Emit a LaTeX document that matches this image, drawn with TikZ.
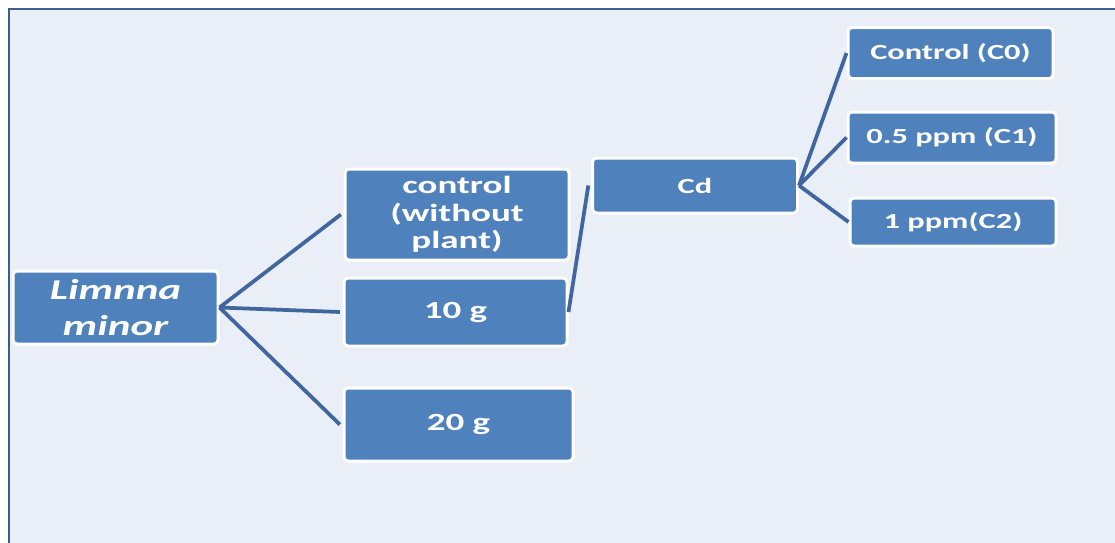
\documentclass[tikz,border=0pt]{standalone}
\usepackage{fontspec}
\setmainfont{Carlito}[FakeStretch=1.5]
\definecolor{bgc}{RGB}{233,238,247}
\definecolor{framec}{RGB}{61,93,143}
\definecolor{boxc}{RGB}{79,129,189}
\definecolor{linec}{RGB}{63,102,158}
\tikzset{
  box/.style={draw=white, line width=2.25pt, fill=boxc, rounded corners=3pt,
    inner sep=0pt, text=white, align=center, font=\bfseries},
  big/.style={font=\bfseries\fontsize{18.5}{20.5}\selectfont},
  small/.style={font=\bfseries\fontsize{16.2}{18}\selectfont},
  conn/.style={draw=linec, line width=2.8pt}
}
\begin{document}
\begin{tikzpicture}[x=0.75pt,y=-0.75pt]
\useasboundingbox (0,0) rectangle (1115,543);
\fill[white] (0,0) rectangle (1115,543);
\fill[bgc] (9,9) rectangle (1115,543);
\draw[framec, line width=1.9pt] (9,543) -- (9,9) -- (1115,9);
% connectors
\node[box, minimum width={205*0.75pt}, minimum height={73*0.75pt},
  font=\bfseries\itshape\fontsize{21.5}{27}\selectfont] (lm) at (115.5,307.5) {Limnna\\minor};
\node[box, big, minimum width={224*0.75pt}, minimum height={91*0.75pt}] (ctl) at (457,214.5) {control\\(without\\plant)};
\node[box, big, minimum width={223*0.75pt}, minimum height={68*0.75pt}] (g10) at (455.5,312) {10 g};
\node[box, big, minimum width={229*0.75pt}, minimum height={73*0.75pt}] (g20) at (458.5,424.5) {20 g};
\node[box, small, minimum width={205*0.75pt}, minimum height={55*0.75pt}] (cd) at (695,185.5) {Cd};
\node[box, small, minimum width={205*0.75pt}, minimum height={51*0.75pt}] (c0) at (950.5,53) {Control (C0)};
\node[box, small, minimum width={208*0.75pt}, minimum height={51*0.75pt}] (c1) at (952,137.5) {0.5 ppm (C1)};
\node[box, small, minimum width={206*0.75pt}, minimum height={48*0.75pt}] (c2) at (953,222) {1 ppm(C2)};
\draw[conn] (lm.east) -- ([xshift=-2pt]ctl.west);
\draw[conn] (lm.east) -- ([xshift=-2pt]g10.west);
\draw[conn] (lm.east) -- ([xshift=-2pt]g20.west);
\draw[conn] (g10.east) -- ([xshift=-2pt]cd.west);
\draw[conn] (cd.east) -- (c0.west);
\draw[conn] (cd.east) -- (c1.west);
\draw[conn] (cd.east) -- (c2.west);
\end{tikzpicture}
\end{document}
